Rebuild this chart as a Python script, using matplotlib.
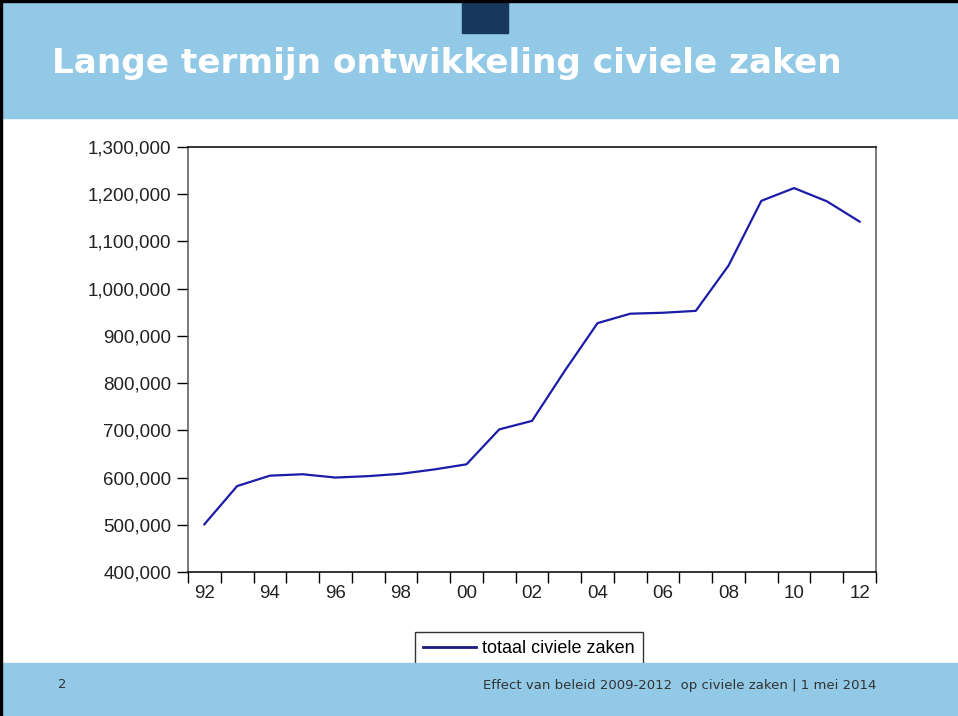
import matplotlib
matplotlib.use('Agg')
import matplotlib.pyplot as plt
from matplotlib.patches import Rectangle
from matplotlib.ticker import FuncFormatter

# totaal civiele zaken per jaar
jaren = list(range(1992, 2013))
zaken = [501000, 582000, 604000, 607000, 600000, 603000, 608000, 617000,
         628000, 702000, 720000, 826000, 927000, 947000, 949000, 953000,
         1049000, 1186000, 1213000, 1185000, 1142000]

y_ticks = [400000, 500000, 600000, 700000, 800000, 900000, 1000000,
           1100000, 1200000, 1300000]
x_labels = ['92', '94', '96', '98', '00', '02', '04', '06', '08', '10', '12']

titel = 'Lange termijn ontwikkeling civiele zaken'
voet = 'Effect van beleid 2009-2012  op civiele zaken | 1 mei 2014'
lichtblauw = '#91C9E6'

W, H = 958, 716
fig = plt.figure(figsize=(W/100, H/100), dpi=100)
fig.patch.set_facecolor('white')

def px(x0, y0, w, h):
    # pixel box -> figure fraction
    return (x0/W, 1-(y0+h)/H, w/W, h/H)

# kopbalk + voetbalk
x, y, w, h = px(0, 0, W, 118)
fig.patches.append(Rectangle((x, y), w, h, transform=fig.transFigure, color=lichtblauw, zorder=1))
x, y, w, h = px(462, 0, 46, 33)
fig.patches.append(Rectangle((x, y), w, h, transform=fig.transFigure, color='#17375E', zorder=2))
x, y, w, h = px(0, 663, W, 53)
fig.patches.append(Rectangle((x, y), w, h, transform=fig.transFigure, color=lichtblauw, zorder=5))
# dunne rand links/boven
fig.patches.append(Rectangle((0, 0), 1.6/W, 1, transform=fig.transFigure, color='black', zorder=6))
fig.patches.append(Rectangle((0, 1-1.6/H), 1, 1.6/H, transform=fig.transFigure, color='black', zorder=6))

fig.text(52/W, 1-63/H, titel, color='white', fontsize=24.7, fontweight='bold',
         family='DejaVu Sans', va='center', ha='left', zorder=3)
fig.text(62/W, 1-685/H, '2', color='#333333', fontsize=9.5, family='DejaVu Sans',
         va='center', ha='center', zorder=7)
fig.text(876/W, 1-685/H, voet, color='#333333', fontsize=9.5, family='DejaVu Sans',
         va='center', ha='right', zorder=7)

ax = fig.add_axes([188/W, 1-572/H, (876-188)/W, (572-147)/H])
ax.plot(jaren, zaken, color='#1C1CA8', lw=1.6, label='totaal civiele zaken')

ax.set_xlim(1991.5, 2012.5)
ax.set_ylim(400000, 1300000)
ax.set_yticks(y_ticks)
ax.yaxis.set_major_formatter(FuncFormatter(lambda v, p: f'{int(v):,}'))

# tickstreepjes tussen de jaren, labels op de even jaren
ax.set_xticks([j + 0.5 for j in range(1991, 2013)])
ax.set_xticklabels([])
ax.set_xticks(list(range(1992, 2013, 2)), minor=True)
ax.set_xticklabels(x_labels, minor=True)
ax.tick_params(axis='x', which='minor', length=0, pad=9)
ax.tick_params(axis='x', which='major', length=8, width=1, direction='out')
ax.tick_params(axis='y', length=8, width=1, direction='out', pad=4)

for lab in ax.get_xticklabels(minor=True) + ax.get_yticklabels():
    lab.set_fontfamily('Liberation Sans')
    lab.set_fontsize(13.5)
    lab.set_color('#222222')

for s in ['left', 'right']:
    ax.spines[s].set_color('#555555')
for s in ['top', 'bottom']:
    ax.spines[s].set_color('black')
for s in ax.spines.values():
    s.set_linewidth(1.1)

leg = fig.legend(loc='upper center', bbox_to_anchor=(529/W, 1-632/H),
                 frameon=True, fancybox=False, edgecolor='black',
                 prop={'family': 'Liberation Sans', 'size': 13},
                 handlelength=2.9, borderaxespad=0, borderpad=0.45,
                 handletextpad=0.35)
leg.get_frame().set_linewidth(1)
leg.legend_handles[0].set_color('#1A1A80')
leg.legend_handles[0].set_linewidth(2)
leg.set_zorder(4)

fig.savefig('out.png', dpi=100)
